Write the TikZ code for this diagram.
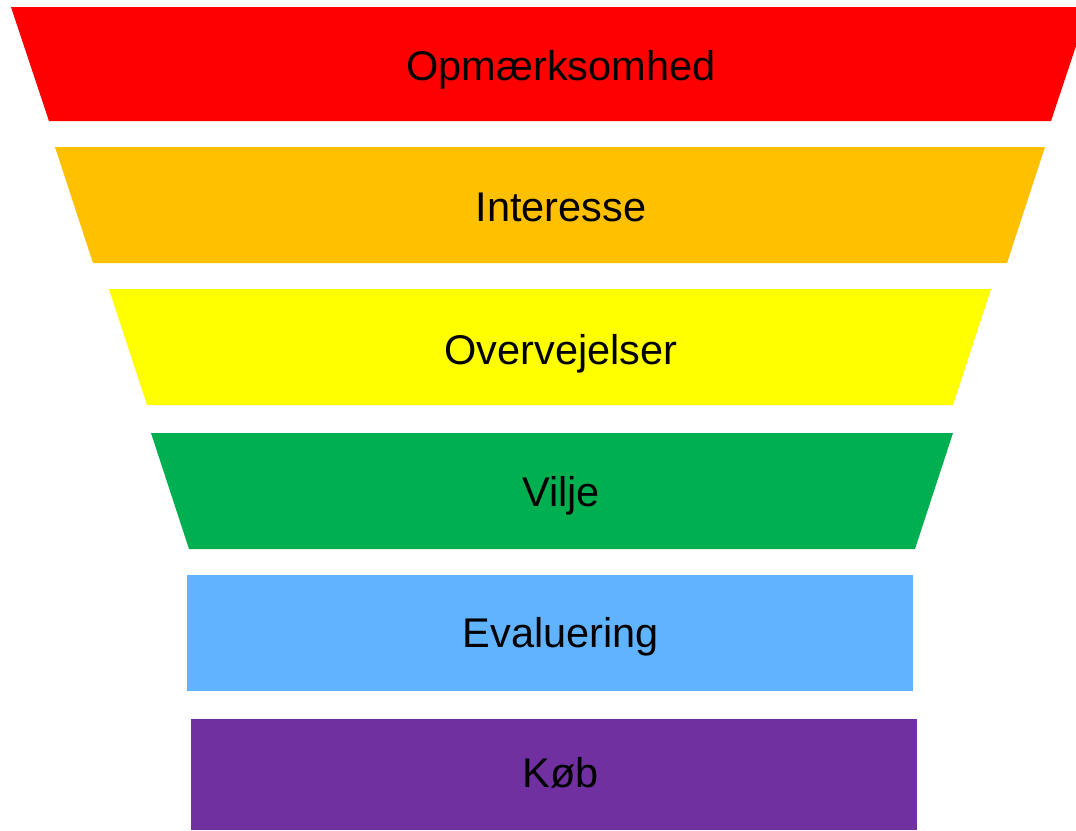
\documentclass[tikz,border=0pt]{standalone}
\usepackage{fontspec}
\setmainfont{Liberation Sans}
\usepackage{tikz}
\usetikzlibrary{positioning}

\definecolor{stepred}{HTML}{FF0000}
\definecolor{steporange}{HTML}{FFC000}
\definecolor{stepyellow}{HTML}{FFFF00}
\definecolor{stepgreen}{HTML}{00B050}
\definecolor{stepblue}{HTML}{60B4FF}
\definecolor{steppurple}{HTML}{7030A0}

\tikzset{
layer/.style={draw=none}, % the funnel bands, filled only
label/.style={anchor=base, inner sep=0pt, font=\fontsize{41.5}{48}\selectfont} % band captions
}

\begin{document}
\begin{tikzpicture}[x=1pt, y=-1pt]
    \useasboundingbox (0,0) rectangle (1076,830);
    \clip (0,0) rectangle (1076,830);
    % funnel bands, top to bottom
    \fill [layer, stepred] (11,7) -- (1089,7) -- (1051,121) -- (49,121) -- cycle;
    \fill [layer, steporange] (55,147) -- (1045,147) -- (1007,263) -- (93,263) -- cycle;
    \fill [layer, stepyellow] (109,289) -- (991,289) -- (953,405) -- (147,405) -- cycle;
    \fill [layer, stepgreen] (151,433) -- (953,433) -- (915,549) -- (189,549) -- cycle;
    \fill [layer, stepblue] (187,575) rectangle (913,691);
    \fill [layer, steppurple] (191,719) rectangle (917,830);
    % captions
    \node [label] (attention) at (561,80) {Opmærksomhed};
    \node [label] (interest) at (561,221) {Interesse};
    \node [label] (consider) at (561,364) {Overvejelser};
    \node [label] (will) at (561,506) {Vilje};
    \node [label] (evaluate) at (561,647) {Evaluering};
    \node [label] (buy) at (561,787) {Køb};
\end{tikzpicture}
\end{document}
